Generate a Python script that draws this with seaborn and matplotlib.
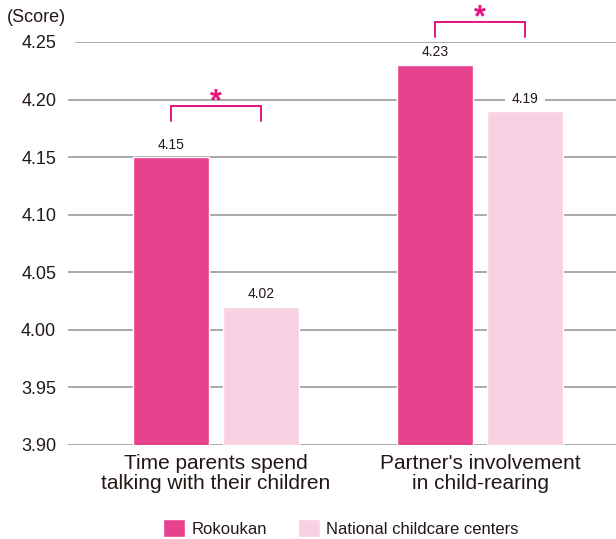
import matplotlib
matplotlib.use("Agg")
import matplotlib.pyplot as plt
import seaborn as sns
import pandas as pd

# Survey scores by item and group
items = ["Time parents spend\ntalking with their children",
         "Partner's involvement\nin child-rearing"]
groups = ["Rokoukan", "National childcare centers"]
rokoukan = [4.15, 4.23]
national = [4.02, 4.19]
significant = [True, True]
yticks = [3.90, 3.95, 4.00, 4.05, 4.10, 4.15, 4.20, 4.25]

colors = ["#E8418E", "#F8D1E3"]
accent = "#E5137F"
grid_gray = "#A3A3A3"
text_col = "#231815"

df = pd.DataFrame({
    "item": items * 2,
    "group": [groups[0]] * 2 + [groups[1]] * 2,
    "score": rokoukan + national,
})

sns.set_theme(style="white")
plt.rcParams["font.family"] = ["Liberation Sans", "DejaVu Sans"]

fig = plt.figure(figsize=(6.16, 5.39), dpi=100)
ax = fig.add_axes([68 / 616, 94 / 539, (616 - 68) / 616, 403 / 539])

sns.barplot(data=df, x="item", y="score", hue="group", hue_order=groups,
            palette=colors, width=0.682, gap=0.156, dodge=True,
            saturation=1, ax=ax, legend=True)

ax.set_ylim(yticks[0], yticks[-1])
ax.set_xlim(-0.561, 1.515)
ax.set_yticks(yticks)
ax.set_yticklabels([f"{t:.2f}" for t in yticks], fontsize=13, color=text_col)
ax.tick_params(axis="y", length=0, pad=8.5)
ax.tick_params(axis="x", length=0, pad=6.5)
for lbl in ax.get_xticklabels():
    lbl.set_fontsize(15)
    lbl.set_color(text_col)
    lbl.set_linespacing(1.05)
ax.set_xlabel("")
ax.set_ylabel("")
for s in ax.spines.values():
    s.set_visible(False)

# horizontal guide lines (top one starts a little to the right)
for t in yticks:
    start = 8 / 548 if t == yticks[-1] else 0
    ax.axhline(t, xmin=start, xmax=1, color=grid_gray, linewidth=1.3, zorder=0.5)

# value labels on each bar; a white patch hides a guide line running through a label
for cont in ax.containers:
    texts = ax.bar_label(cont, fmt="%.2f", padding=4, fontsize=10, color=text_col)
    for bar, t in zip(cont, texts):
        v = bar.get_height()
        if any(v < g < v + 0.015 for g in yticks):
            t.set_bbox(dict(facecolor="white", edgecolor="none", pad=4.5))

# significance brackets between paired bars
half = 0.682 / 4
lift = [(0.0316, 0.0447), (0.0241, 0.0371)]
for i, sig in enumerate(significant):
    if not sig:
        continue
    top = max(rokoukan[i], national[i])
    y0, y1 = top + lift[i][0], top + lift[i][1]
    xa, xb = i - half, i + half
    ax.plot([xa, xa, xb, xb], [y0, y1, y1, y0], color=accent,
            linewidth=1.4, clip_on=False, solid_joinstyle="miter", zorder=4)
    ax.annotate("*", xy=(i, y1), xytext=(0, -3.0), textcoords="offset points",
                ha="center", va="baseline", color=accent,
                fontsize=22, fontweight="bold", annotation_clip=False)

fig.text(7 / 616, 1 - 18 / 539, "(Score)", ha="left", va="center",
         fontsize=13, color=text_col)

handles, labels = ax.get_legend_handles_labels()
ax.get_legend().remove()
fig.legend(handles, labels, loc="center", bbox_to_anchor=(341 / 616, 1 - 528 / 539),
           ncol=2, frameon=False, fontsize=12, handlelength=1.32,
           handleheight=1.26, handletextpad=0.4, columnspacing=1.8,
           labelcolor=text_col, borderpad=0, borderaxespad=0)

fig.savefig("out.png", dpi=100)
